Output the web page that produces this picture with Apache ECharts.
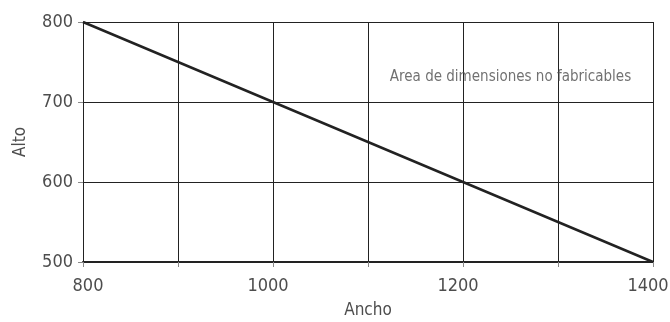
<!DOCTYPE html>
<html><head><meta charset="utf-8">
<script src="https://cdn.jsdelivr.net/npm/echarts@6/dist/echarts.min.js"></script>
<style>html,body{margin:0;padding:0;background:#fff}#c{width:670px;height:322px}</style>
</head><body><div id="c"></div>
<script>
var lineX = [800, 1400];
var lineY = [800, 500];
var noteText = 'Area de dimensiones no fabricables';
var notePos = [1250, 731];
var xName = 'Ancho';
var yName = 'Alto';
var FONT = '"Liberation Sans Narrow", "DejaVu Sans Condensed", sans-serif';
var TXT = '#4d4d4d';
var chart = echarts.init(document.getElementById('c'), null, {renderer: 'canvas'});
chart.setOption({
  animation: false,
  grid: {left: 83, right: 17, top: 22, bottom: 60, show: false, outerBoundsMode: 'none', containLabel: false},
  xAxis: {
    type: 'value', min: 800, max: 1400, interval: 100,
    name: xName, nameLocation: 'middle', nameGap: 40,
    nameTextStyle: {fontFamily: FONT, fontSize: 17, color: TXT},
    axisLine: {show: true, onZero: false, lineStyle: {color: '#222', width: 2}},
    axisTick: {show: true, length: 5, lineStyle: {color: '#888'}, interval: 0},
    axisLabel: {fontFamily: FONT, fontSize: 18, color: TXT, margin: 15,
      formatter: function (v) {
        if ((v - 800) % 200 !== 0) return '';
        return v === 800 ? '{l|' + v + '}' : '{r|' + v + '}';
      },
      rich: {
        l: {fontFamily: FONT, fontSize: 18, color: TXT, padding: [0, 0, 0, 10]},
        r: {fontFamily: FONT, fontSize: 18, color: TXT, padding: [0, 10, 0, 0]}
      }},
    splitLine: {show: true, lineStyle: {color: '#222', width: 1}}
  },
  yAxis: {
    type: 'value', min: 500, max: 800, interval: 100,
    name: yName, nameLocation: 'middle', nameGap: 54, nameRotate: 90,
    nameTextStyle: {fontFamily: FONT, fontSize: 17, color: TXT},
    axisLine: {show: true, lineStyle: {color: '#222', width: 1}},
    axisTick: {show: true, length: 5, lineStyle: {color: '#888'}},
    axisLabel: {fontFamily: FONT, fontSize: 18, color: TXT, margin: 10},
    splitLine: {show: true, lineStyle: {color: '#222', width: 1}}
  },
  series: [
    {type: 'line', data: lineX.map(function (x, i) { return [x, lineY[i]]; }),
     symbol: 'none', lineStyle: {color: '#222', width: 2.5}},
    {type: 'scatter', data: [notePos], symbolSize: 0,
     label: {show: true, position: 'inside', formatter: noteText,
       fontFamily: FONT, fontSize: 15, color: TXT}}
  ]
});
</script></body></html>
